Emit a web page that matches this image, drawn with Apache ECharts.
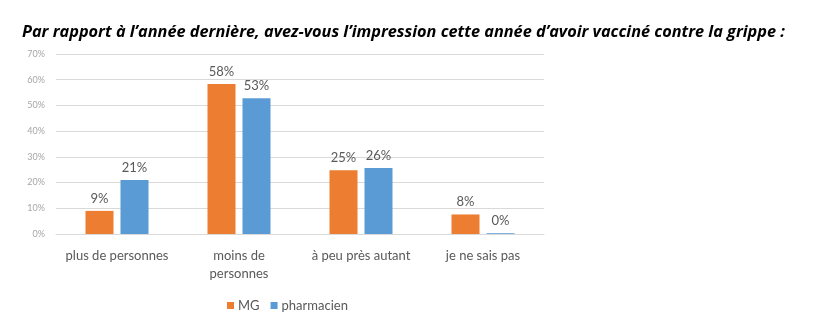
<!DOCTYPE html>
<html><head><meta charset="utf-8">
<script src="https://cdn.jsdelivr.net/npm/echarts@6/dist/echarts.min.js"></script>
<style>html,body{margin:0;padding:0;background:#fff}#c{width:815px;height:324px}</style>
</head><body><div id="c"></div>
<script>
const titleText = "Par rapport à l’année dernière, avez-vous l’impression cette année d’avoir vacciné contre la grippe :";
const categories = ["plus de personnes", "moins de\npersonnes", "à peu près autant", "je ne sais pas"];
const seriesNames = ["MG", "pharmacien"];
const mgValues = [9, 58.3, 24.8, 7.6];
const pharmValues = [21, 52.8, 25.7, 0.3];
const mgLabels = ["9%", "58%", "25%", "8%"];
const pharmLabels = ["21%", "53%", "26%", "0%"];
const yTicks = [0, 10, 20, 30, 40, 50, 60, 70];

const chart = echarts.init(document.getElementById('c'), null, {renderer: 'canvas'});
const labelFont = 'Lato';
function mkSeries(name, vals, labels, color) {
  return {
    name: name, type: 'bar', barWidth: 28, barGap: '25%',
    itemStyle: {color: color},
    data: vals.map((v, i) => ({value: v, label: {formatter: labels[i]}})),
    label: {show: true, position: 'top', distance: 6, color: '#595959', fontSize: 13, fontFamily: labelFont},
    emphasis: {disabled: true}
  };
}
chart.setOption({
  animation: false,
  title: {
    text: titleText, left: 17, top: 19,
    textStyle: {fontFamily: 'Open Sans', fontStyle: 'italic', fontWeight: 'bold', fontSize: 16.3, color: '#000'}
  },
  grid: {left: 56, top: 54, width: 488, height: 180, containLabel: false},
  legend: {
    data: seriesNames, left: 222, top: 294, itemWidth: 7, itemHeight: 7, itemGap: 11,
    icon: 'rect',
    textStyle: {color: '#595959', fontSize: 13, fontFamily: labelFont, padding: [0, 0, 0, -1]}
  },
  xAxis: {
    type: 'category', data: categories,
    axisLine: {lineStyle: {color: '#d9d9d9'}},
    axisTick: {show: false},
    axisLabel: {color: '#595959', fontSize: 13, fontFamily: labelFont, margin: 13, lineHeight: 18, interval: 0}
  },
  yAxis: {
    type: 'value', min: 0, max: 70, interval: 10,
    axisLine: {show: false}, axisTick: {show: false},
    splitLine: {lineStyle: {color: '#d9d9d9'}},
    axisLabel: {color: '#a6a6a6', fontSize: 9, fontFamily: labelFont, margin: 11,
      formatter: v => yTicks.includes(v) ? v + '%' : ''}
  },
  series: [
    mkSeries(seriesNames[0], mgValues, mgLabels, '#ED7D31'),
    mkSeries(seriesNames[1], pharmValues, pharmLabels, '#5B9BD5')
  ]
});
</script></body></html>
